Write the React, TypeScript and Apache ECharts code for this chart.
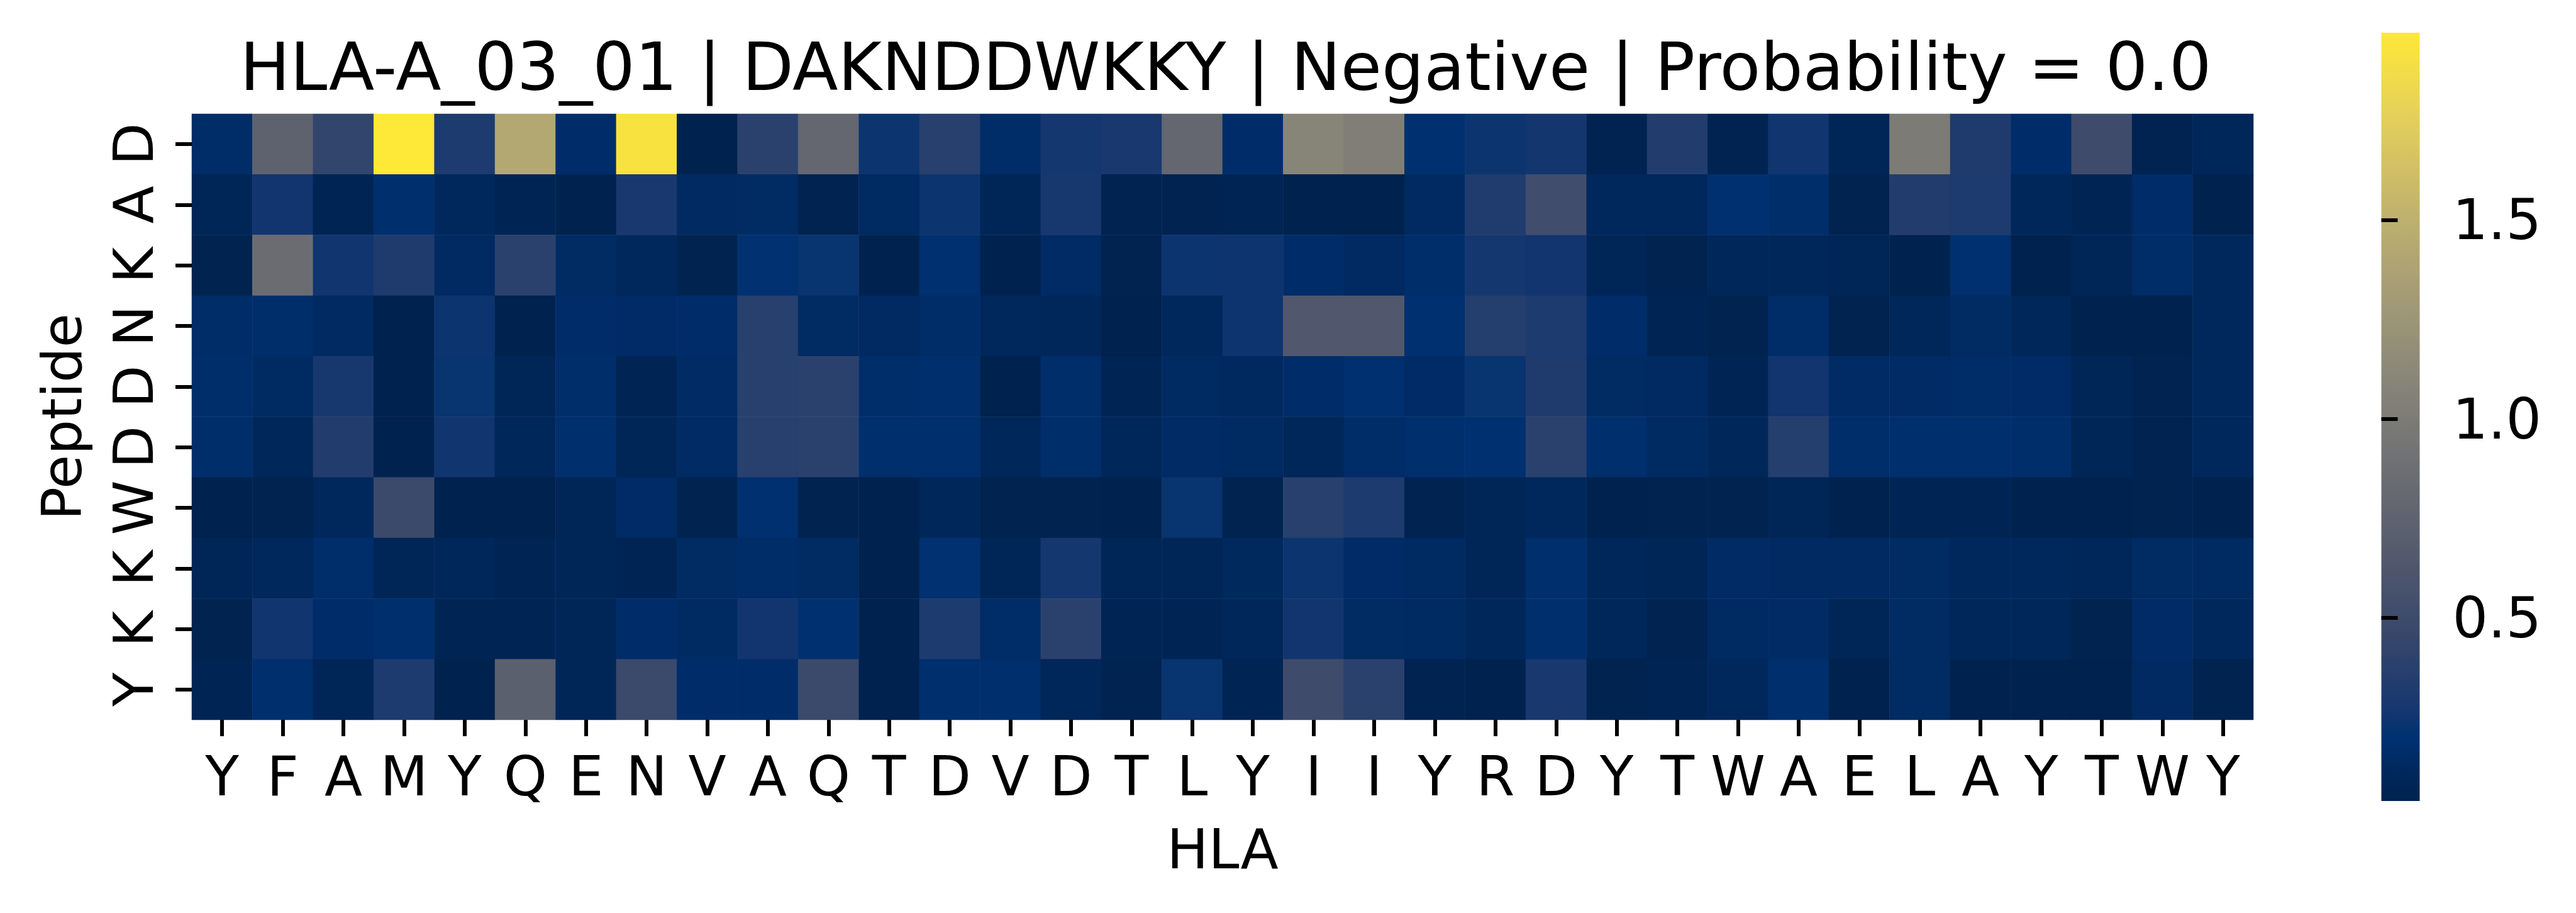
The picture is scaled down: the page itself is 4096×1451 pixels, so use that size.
import { useEffect, useRef } from "react";
import * as echarts from "echarts";

const TITLE = "HLA-A_03_01 | DAKNDDWKKY | Negative | Probability = 0.0";
const X_NAME = "HLA";
const Y_NAME = "Peptide";
const HLA = ["Y","F","A","M","Y","Q","E","N","V","A","Q","T","D","V","D","T","L","Y","I","I","Y","R","D","Y","T","W","A","E","L","A","Y","T","W","Y"];
const PEPTIDE = ["D","A","K","N","D","D","W","K","K","Y"];

const ROW_D1 = [0.155,0.74,0.43,1.97,0.31,1.42,0.165,1.92,0.04,0.39,0.79,0.24,0.37,0.155,0.27,0.29,0.79,0.165,1.09,1.03,0.195,0.24,0.26,0.06,0.34,0.06,0.25,0.085,1.0,0.32,0.16,0.5,0.06,0.10];
const ROW_A2 = [0.085,0.255,0.075,0.18,0.115,0.075,0.04,0.29,0.13,0.14,0.06,0.135,0.24,0.085,0.28,0.06,0.06,0.065,0.04,0.04,0.13,0.33,0.52,0.11,0.115,0.19,0.17,0.05,0.34,0.31,0.10,0.075,0.16,0.04];
const ROW_K3 = [0.05,0.85,0.25,0.32,0.13,0.39,0.14,0.11,0.05,0.2,0.23,0.04,0.195,0.04,0.145,0.05,0.24,0.245,0.16,0.13,0.17,0.27,0.255,0.085,0.05,0.10,0.095,0.085,0.04,0.195,0.04,0.085,0.155,0.115];
const ROW_N4 = [0.155,0.17,0.13,0.04,0.24,0.04,0.165,0.15,0.16,0.37,0.14,0.13,0.155,0.115,0.10,0.04,0.11,0.245,0.64,0.64,0.195,0.35,0.31,0.16,0.075,0.05,0.155,0.05,0.10,0.14,0.095,0.04,0.04,0.115];
const ROW_D5 = [0.17,0.135,0.28,0.04,0.23,0.085,0.17,0.075,0.145,0.37,0.39,0.17,0.18,0.04,0.17,0.075,0.135,0.125,0.165,0.195,0.15,0.23,0.32,0.14,0.13,0.075,0.255,0.145,0.145,0.155,0.15,0.085,0.06,0.115];
const ROW_D6 = [0.17,0.10,0.34,0.04,0.25,0.10,0.18,0.085,0.145,0.37,0.39,0.18,0.18,0.095,0.17,0.095,0.145,0.135,0.095,0.155,0.18,0.195,0.39,0.18,0.135,0.10,0.35,0.17,0.18,0.18,0.17,0.085,0.06,0.115];
const ROW_W7 = [0.04,0.05,0.115,0.48,0.04,0.04,0.085,0.15,0.05,0.195,0.05,0.04,0.095,0.05,0.05,0.04,0.23,0.05,0.37,0.31,0.06,0.085,0.115,0.04,0.05,0.05,0.085,0.04,0.075,0.075,0.04,0.04,0.05,0.04];
const ROW_K8 = [0.085,0.115,0.17,0.085,0.10,0.075,0.085,0.075,0.14,0.155,0.14,0.04,0.2,0.085,0.27,0.085,0.085,0.12,0.24,0.15,0.135,0.085,0.18,0.095,0.085,0.145,0.13,0.13,0.14,0.115,0.115,0.095,0.14,0.135];
const ROW_K9 = [0.05,0.25,0.165,0.18,0.075,0.075,0.085,0.165,0.135,0.255,0.195,0.04,0.31,0.155,0.39,0.075,0.075,0.1,0.255,0.14,0.135,0.095,0.18,0.095,0.06,0.135,0.145,0.085,0.14,0.10,0.10,0.05,0.15,0.115];
const ROW_Y10 = [0.075,0.175,0.085,0.31,0.04,0.72,0.085,0.48,0.165,0.165,0.48,0.04,0.18,0.18,0.1,0.06,0.23,0.07,0.5,0.39,0.06,0.04,0.29,0.05,0.075,0.11,0.18,0.04,0.14,0.04,0.04,0.04,0.13,0.05];
const ROWS = [ROW_D1, ROW_A2, ROW_K3, ROW_N4, ROW_D5, ROW_D6, ROW_W7, ROW_K8, ROW_K9, ROW_Y10];

const V_MIN = 0.04;
const V_MAX = 1.97;
const CBAR_TICKS = [0.5, 1.0, 1.5];

// cividis colormap key stops (style)
const CMAP_STOPS: [number, string][] = [
  [0, "#00224e"], [0.04, "#00285d"], [0.075, "#00306f"], [0.09, "#013270"],
  [0.114, "#14366f"], [0.222, "#39486b"], [0.333, "#575c6d"], [0.444, "#707173"],
  [0.556, "#8a8779"], [0.667, "#a69d75"], [0.778, "#c4b56c"], [0.889, "#e4cf5b"], [1, "#fee838"],
];

function hexToRgb(h: string) {
  return [parseInt(h.slice(1, 3), 16), parseInt(h.slice(3, 5), 16), parseInt(h.slice(5, 7), 16)];
}
function cmap(t: number) {
  for (let i = 0; i < CMAP_STOPS.length - 1; i++) {
    const [t0, c0] = CMAP_STOPS[i];
    const [t1, c1] = CMAP_STOPS[i + 1];
    if (t <= t1) {
      const f = (t - t0) / (t1 - t0);
      const a = hexToRgb(c0), b = hexToRgb(c1);
      const c = a.map((v, k) => Math.round(v + (b[k] - v) * f));
      return `rgb(${c[0]},${c[1]},${c[2]})`;
    }
  }
  return CMAP_STOPS[CMAP_STOPS.length - 1][1];
}
const N_COLORS = 128;
const PALETTE = Array.from({ length: N_COLORS }, (_, i) => cmap(i / (N_COLORS - 1)));

const FONT = "DejaVu Sans";
const W = 4096, H = 1451;
const GRID = { left: 305, top: 181, width: 3278, height: 963 };
const CBAR = { left: 3786.5, top: 52, width: 61, height: 1221 };

export default function App() {
  const ref = useRef<HTMLDivElement>(null);
  useEffect(() => {
    if (!ref.current) return;
    const chart = echarts.init(ref.current, undefined, { renderer: "svg" });
    const data: [number, number, number][] = [];
    ROWS.forEach((row, y) => row.forEach((v, x) => data.push([x, y, v])));
    const tickStyle = { show: true, length: 26, lineStyle: { color: "#000", width: 6 } };
    chart.setOption({
      animation: false,
      backgroundColor: "#fff",
      title: {
        text: TITLE,
        left: GRID.left + GRID.width / 2,
        top: 48,
        textAlign: "center",
        textStyle: { fontFamily: FONT, fontSize: 106, fontWeight: "normal", color: "#000" },
      },
      grid: [
        { ...GRID, containLabel: false },
        { ...CBAR, containLabel: false },
      ],
      xAxis: [
        {
          type: "category",
          gridIndex: 0,
          data: HLA.map((_, i) => String(i)),
          axisLine: { show: false },
          axisTick: { ...tickStyle, alignWithLabel: true, interval: 0 },
          axisLabel: {
            interval: 0, margin: 45, fontFamily: FONT, fontSize: 88, color: "#000",
            formatter: (_v: string, i: number) => HLA[i],
          },
          splitLine: { show: false },
          name: X_NAME, nameLocation: "middle", nameGap: 161,
          nameTextStyle: { fontFamily: FONT, fontSize: 88, color: "#000" },
        },
        { type: "value", gridIndex: 1, show: false, min: 0, max: 1 },
      ],
      yAxis: [
        {
          type: "category",
          gridIndex: 0,
          inverse: true,
          data: PEPTIDE.map((_, i) => String(i)),
          axisLine: { show: false },
          axisTick: { ...tickStyle, alignWithLabel: true, interval: 0 },
          axisLabel: {
            interval: 0, margin: 49, rotate: 90, fontFamily: FONT, fontSize: 88, color: "#000",
            formatter: (_v: string, i: number) => PEPTIDE[i],
          },
          splitLine: { show: false },
          name: Y_NAME, nameLocation: "middle", nameGap: 163,
          nameTextStyle: { fontFamily: FONT, fontSize: 88, color: "#000" },
        },
        {
          type: "value",
          gridIndex: 1,
          position: "right",
          min: V_MIN,
          max: V_MAX,
          axisLine: { show: false },
          splitLine: { show: false },
          axisTick: { ...tickStyle, customValues: CBAR_TICKS },
          axisLabel: {
            customValues: CBAR_TICKS, margin: 52, fontFamily: FONT, fontSize: 89, color: "#000",
            formatter: (v: number) => v.toFixed(1),
          },
        },
      ],
      visualMap: {
        show: false,
        type: "continuous",
        min: V_MIN,
        max: V_MAX,
        seriesIndex: 0,
        inRange: { color: PALETTE },
      },
      graphic: [
        {
          type: "rect",
          shape: { x: CBAR.left, y: CBAR.top, width: CBAR.width, height: CBAR.height },
          style: {
            fill: {
              type: "linear", x: 0, y: 1, x2: 0, y2: 0,
              colorStops: PALETTE.map((c, i) => ({ offset: i / (N_COLORS - 1), color: c })),
            },
          },
          silent: true,
        },
      ],
      series: [
        {
          type: "heatmap",
          xAxisIndex: 0,
          yAxisIndex: 0,
          data,
          itemStyle: { borderWidth: 0 },
          emphasis: { disabled: true },
        },
        { type: "line", xAxisIndex: 1, yAxisIndex: 1, data: [], silent: true },
      ],
    });
    return () => chart.dispose();
  }, []);
  return (
    <div
      ref={ref}
      style={{ position: "fixed", left: 0, top: 0, width: W, height: H, background: "#fff" }}
    />
  );
}
